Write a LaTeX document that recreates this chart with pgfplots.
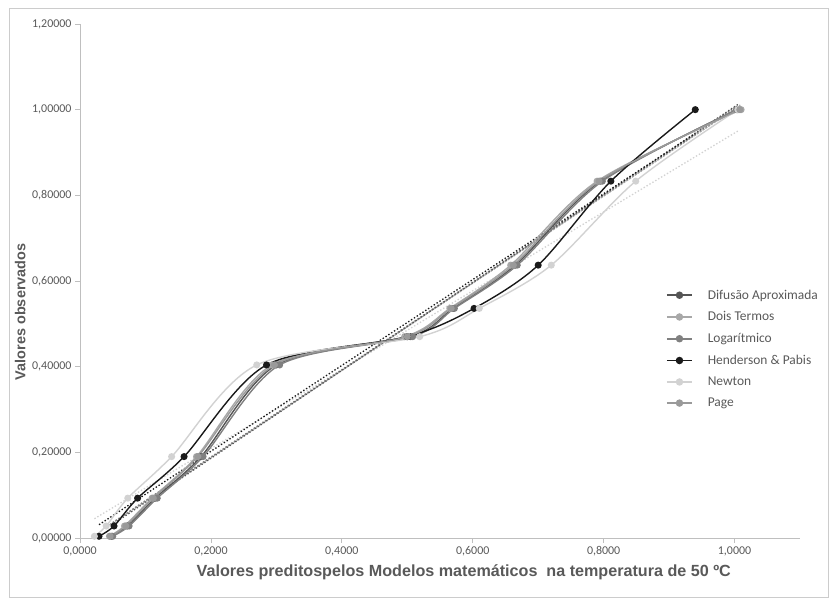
\documentclass[border=0pt]{standalone}
\usepackage{pgfplots}
\pgfplotsset{compat=1.18}
\usepackage{fontspec}
\setmainfont{Carlito}
\newfontfamily\arialfont{Liberation Sans}
\definecolor{cDif}{HTML}{555555}
\definecolor{cDois}{HTML}{A8A8A8}
\definecolor{cLog}{HTML}{808080}
\definecolor{cHP}{HTML}{1A1A1A}
\definecolor{cNew}{HTML}{D2D2D2}
\definecolor{cPage}{HTML}{9A9A9A}
\definecolor{axgray}{HTML}{BFBFBF}
\definecolor{txtgray}{HTML}{595959}
\begin{document}
\begin{tikzpicture}[x=1bp,y=1bp]
\useasboundingbox (0,0) rectangle (829,598);
\draw[axgray!80, line width=0.8bp] (9,0.5) rectangle (828,590);
\begin{axis}[
  at={(80bp,60bp)}, anchor=south west,
  width=720bp, height=514bp, scale only axis,
  xmin=0, xmax=1.1, ymin=0, ymax=1.2,
  axis x line*=bottom, axis y line*=left,
  axis line style={-, draw=axgray, line width=0.8bp},
  xtick={0,0.2,0.4,0.6,0.8,1.0},
  ytick={0,0.2,0.4,0.6,0.8,1.0,1.2},
  tick align=outside, major tick length=5bp,
  tick style={draw=axgray, line width=0.8bp},
  ticklabel style={font=\fontsize{12}{14}\selectfont, text=txtgray},
  xticklabel style={/pgf/number format/.cd, fixed, fixed zerofill, precision=4, use comma, assume math mode=true},
  yticklabel style={/pgf/number format/.cd, fixed, fixed zerofill, precision=5, use comma, assume math mode=true},
  scaled ticks=false,
  xlabel={Valores preditospelos Modelos matemáticos~ na temperatura de 50 ºC},
  ylabel={Valores observados},
  xlabel style={at={(axis description cs:0.533,-0.066)}, anchor=center, font=\arialfont\bfseries\fontsize{16.2}{18}\selectfont, text=txtgray},
  ylabel style={at={(axis description cs:-0.083,0.44)}, anchor=center, rotate=0, font=\arialfont\bfseries\fontsize{14.5}{17}\selectfont, text=txtgray},
  legend style={at={(0.8097,0.491)}, anchor=north west, draw=none, fill=none,
    font=\fontsize{13.5}{16}\selectfont, text=txtgray, row sep=7bp,
    /tikz/every odd column/.append style={column sep=13bp}},
  legend cell align=left,
  legend image code/.code={\draw[mark=none,#1,line width=1.6bp] (0bp,0bp) -- (25bp,0bp); \draw[#1,only marks,mark size=3bp] plot coordinates {(12.5bp,0bp)};},
  every axis plot/.append style={line width=1.4bp, mark=*, mark size=2.8bp},
  clip=false,
]
% linear trendlines (dotted)
\addplot[forget plot, cNew, dotted, line width=1.3bp, mark=none] coordinates {(0.022,0.045) (1.005,0.950)};
\addplot[forget plot, cDois, dotted, line width=1.3bp, mark=none] coordinates {(0.045,0.030) (1.010,1.012)};
\addplot[forget plot, cPage, dotted, line width=1.3bp, mark=none] coordinates {(0.046,0.032) (1.008,1.010)};
\addplot[forget plot, cLog, dotted, line width=1.3bp, mark=none] coordinates {(0.050,0.036) (1.003,1.008)};
\addplot[forget plot, cDif, dotted, line width=1.3bp, mark=none] coordinates {(0.048,0.030) (1.005,1.012)};
\addplot[forget plot, cHP, dotted, line width=1.3bp, mark=none] coordinates {(0.029,0.031) (0.940,0.944)};
% series
\addplot[cDif, smooth, mark options={fill=cDif}] coordinates {
(0.048,0.004) (0.072,0.028) (0.115,0.093) (0.185,0.190) (0.300,0.404) (0.505,0.470) (0.570,0.536) (0.665,0.637) (0.795,0.833) (1.005,1.000)};
\addlegendentry{Difusão Aproximada}
\addplot[cDois, smooth, mark options={fill=cDois}] coordinates {
(0.045,0.004) (0.068,0.028) (0.110,0.093) (0.178,0.190) (0.293,0.404) (0.496,0.470) (0.565,0.536) (0.658,0.637) (0.790,0.833) (1.010,1.000)};
\addlegendentry{Dois Termos}
\addplot[cLog, smooth, mark options={fill=cLog}] coordinates {
(0.050,0.004) (0.075,0.028) (0.118,0.093) (0.188,0.190) (0.305,0.404) (0.508,0.470) (0.572,0.536) (0.668,0.637) (0.798,0.833) (1.003,1.000)};
\addlegendentry{Logarítmico}
\addplot[cHP, smooth, mark options={fill=cHP}] coordinates {
(0.029,0.004) (0.052,0.028) (0.088,0.093) (0.159,0.190) (0.285,0.404) (0.500,0.470) (0.602,0.536) (0.700,0.637) (0.811,0.833) (0.940,1.000)};
\addlegendentry{Henderson \& Pabis}
\addplot[cNew, smooth, mark options={fill=cNew}] coordinates {
(0.022,0.004) (0.040,0.028) (0.073,0.093) (0.140,0.190) (0.270,0.404) (0.519,0.470) (0.610,0.536) (0.720,0.637) (0.849,0.833) (1.005,1.000)};
\addlegendentry{Newton}
\addplot[cPage, smooth, mark options={fill=cPage}] coordinates {
(0.046,0.004) (0.070,0.028) (0.112,0.093) (0.180,0.190) (0.297,0.404) (0.500,0.470) (0.567,0.536) (0.662,0.637) (0.793,0.833) (1.008,1.000)};
\addlegendentry{Page}
\end{axis}
\end{tikzpicture}
\end{document}
